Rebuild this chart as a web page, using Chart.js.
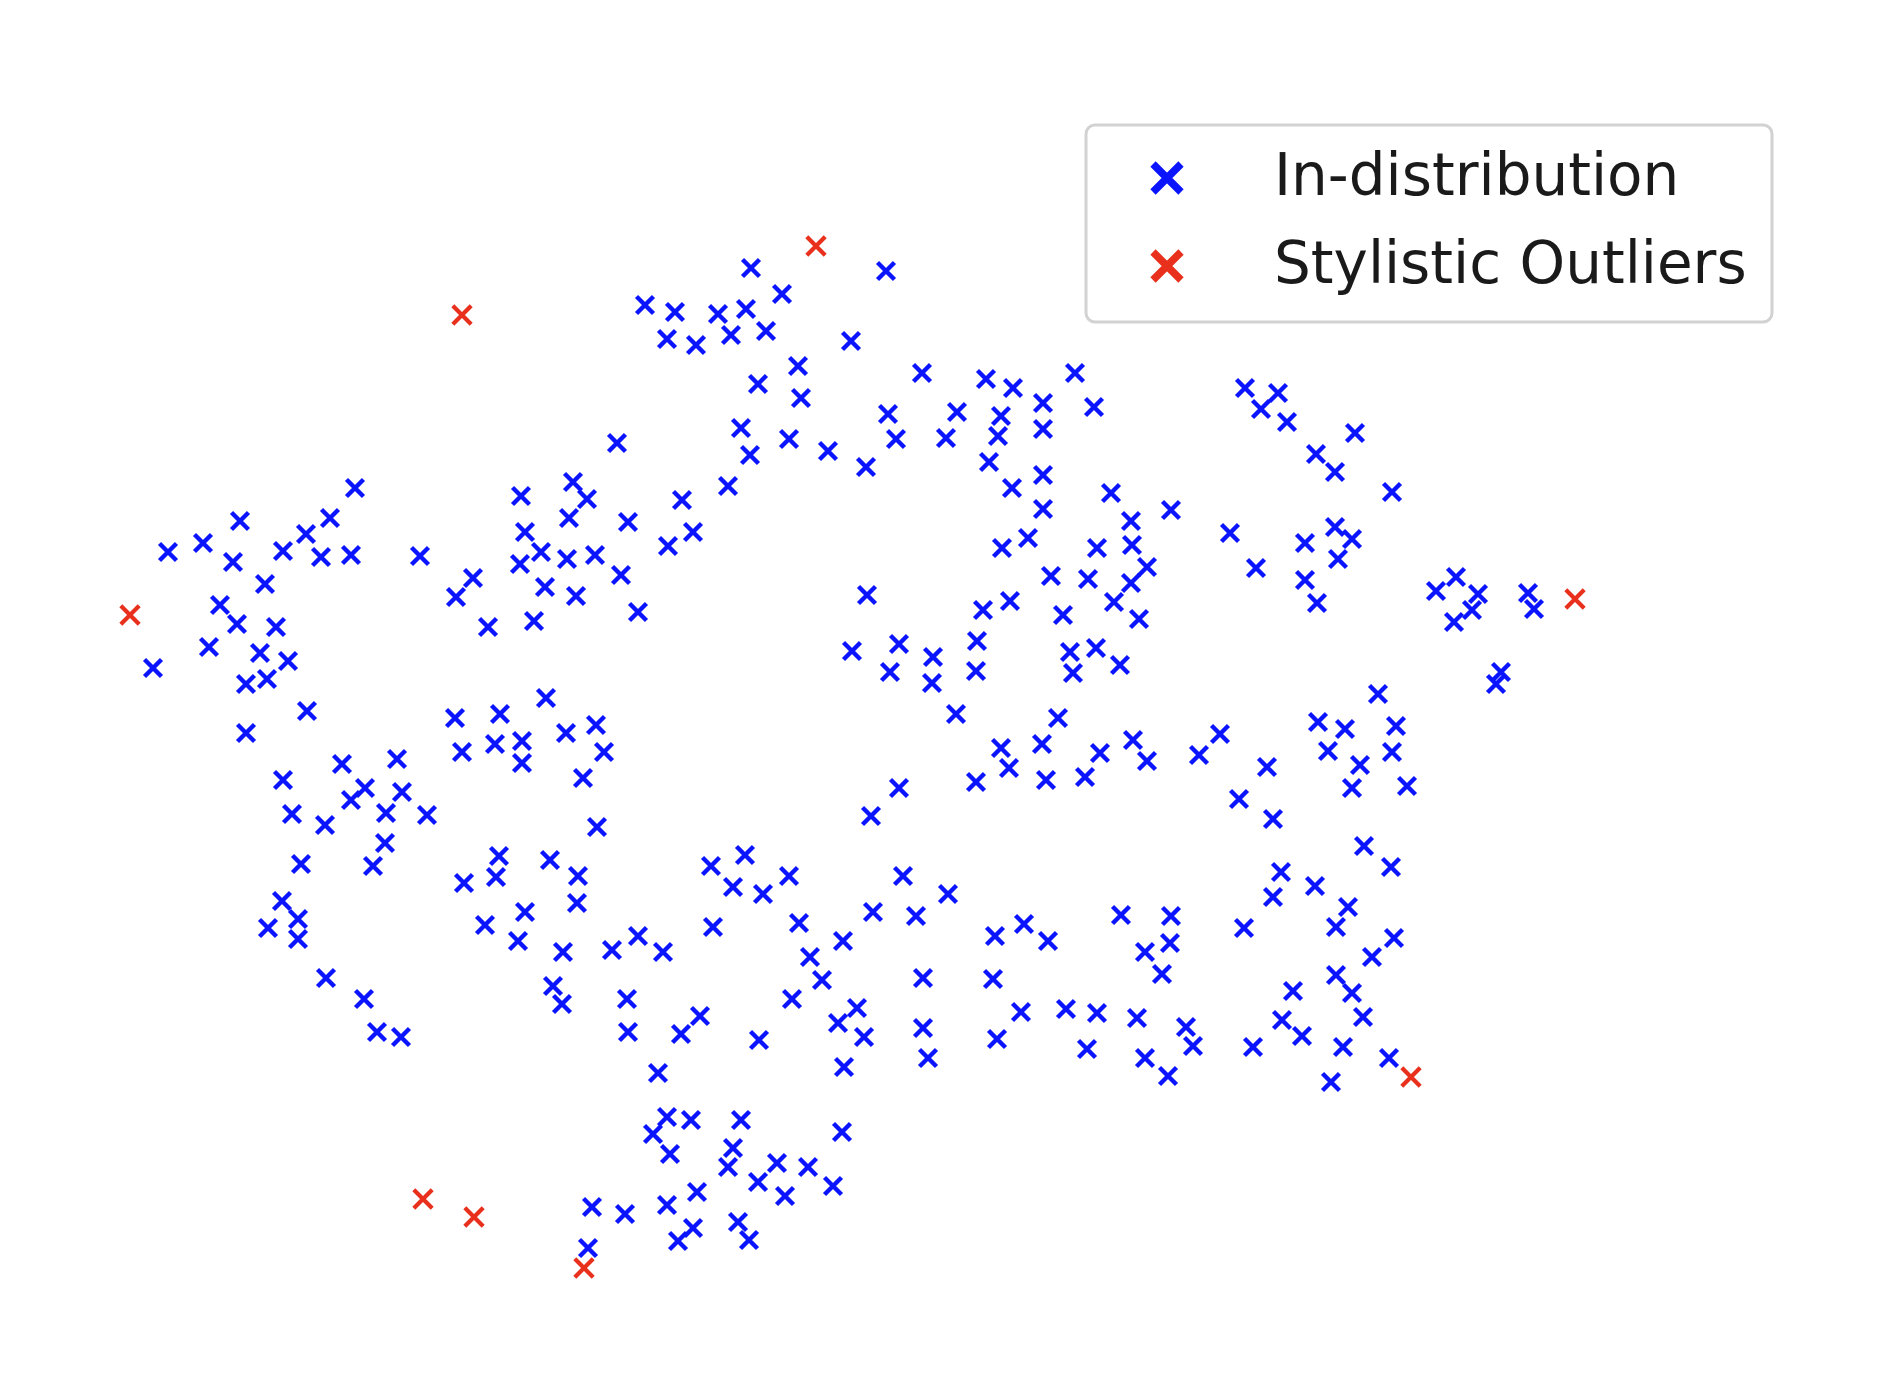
<!DOCTYPE html>
<html>
<head>
<meta charset="utf-8">
<script src="https://cdn.jsdelivr.net/npm/chart.js@4.4.0/dist/chart.umd.min.js"></script>
<style>
  html, body { margin: 0; padding: 0; background: #fff; }
  canvas { display: block; }
</style>
</head>
<body>
<canvas id="chartEmbedding" width="1880" height="1398"></canvas>
<script>
// 2-D embedding coordinates (y grows downward)
const inDistribution = [
  [355,488],[168,552],[203,543],[240,521],[233,562],[283,551],[306,534],[330,518],[321,557],[351,555],
  [420,556],[265,584],[220,605],[456,597],[473,578],[521,496],[525,532],[573,482],[587,499],[569,518],
  [541,552],[520,564],[567,559],[545,587],[576,596],
  [751,268],[886,271],[782,294],[645,305],[675,312],[718,314],[746,309],[667,339],[696,345],[731,335],
  [766,331],[851,341],[798,366],[758,384],[801,398],[922,373],[986,379],[1013,388],[1043,403],[1001,416],
  [1043,429],[998,436],[888,414],[957,412],[896,439],[946,438],[741,428],[789,439],[750,455],[828,451],
  [866,467],[989,462],[1012,488],[1043,475],[1043,509],[1028,538],[1002,548],[617,443],[728,486],[682,500],
  [628,522],[693,532],[668,546],[595,555],[621,575],[867,595],[1051,576],[1010,601],
  [1075,373],[1094,407],[1245,388],[1278,393],[1261,409],[1287,422],[1355,433],[1316,454],[1335,472],[1392,492],
  [1111,493],[1171,510],[1131,521],[1097,548],[1132,545],[1147,567],[1088,579],[1131,583],[1114,602],[1230,533],
  [1256,568],[1305,543],[1335,527],[1352,539],[1338,559],[1305,580],[1317,603],[1436,591],[1456,577],[1478,594],
  [1472,610],[1528,593],[1534,609],
  [237,624],[276,627],[209,647],[260,653],[288,661],[246,684],[267,679],[153,668],[307,711],[246,733],
  [488,627],[534,621],[455,718],[500,714],[546,698],[462,752],[495,744],[522,741],[522,763],[566,733],
  [583,778],[283,780],[342,764],[397,759],[365,788],[351,800],[402,792],[292,814],[325,825],[386,813],
  [427,815],[385,843],[373,866],[301,864],[282,901],[298,919],[268,928],[298,939],[326,978],[499,856],
  [496,877],[464,883],[550,860],[578,876],[577,903],[525,912],[485,925],[518,941],[563,952],[553,986],
  [638,612],[983,610],[1063,615],[852,651],[899,644],[890,672],[933,657],[932,683],[977,641],[976,671],
  [956,714],[1058,718],[1001,748],[1042,744],[1009,768],[976,782],[1046,780],[596,725],[604,752],[597,827],
  [899,788],[871,816],[711,866],[745,855],[733,887],[763,894],[789,876],[903,876],[948,894],[873,912],
  [916,916],[799,923],[713,927],[638,936],[612,950],[663,952],[843,941],[810,957],[822,980],[923,978],
  [993,979],[995,936],[1024,924],[1048,941],
  [1139,619],[1454,622],[1070,652],[1096,648],[1073,673],[1120,665],[1501,672],[1496,684],[1378,694],[1318,722],
  [1345,729],[1396,726],[1328,751],[1392,752],[1360,765],[1352,788],[1407,786],[1100,753],[1133,740],[1147,761],
  [1085,777],[1199,755],[1220,734],[1267,767],[1239,799],[1273,819],[1364,846],[1391,867],[1281,872],[1315,886],
  [1273,897],[1348,907],[1336,927],[1244,928],[1121,915],[1171,916],[1145,952],[1170,943],[1162,974],[1394,938],
  [1372,957],[1336,975],
  [364,999],[377,1032],[401,1037],[562,1004],[588,1248],
  [627,999],[628,1032],[681,1034],[700,1016],[658,1073],[759,1040],[792,999],[857,1008],[838,1023],[864,1037],
  [844,1067],[923,1028],[928,1058],[1021,1012],[997,1039],[1066,1009],[667,1117],[691,1120],[653,1134],[670,1154],
  [741,1120],[733,1148],[728,1167],[777,1163],[758,1182],[808,1167],[785,1196],[833,1186],[842,1132],[697,1192],
  [667,1205],[625,1214],[592,1207],[693,1228],[678,1241],[738,1222],[749,1240],
  [1097,1013],[1137,1018],[1087,1049],[1145,1058],[1168,1076],[1186,1027],[1193,1046],[1253,1047],[1293,991],[1282,1020],
  [1302,1036],[1352,993],[1363,1017],[1343,1047],[1389,1058],[1331,1082]
];
const stylisticOutliers = [
  [462,315],[816,246],[1575,599],[130,615],[423,1199],[474,1217],[584,1268],[1411,1077]
];
const seriesLabels = ['In-distribution', 'Stylistic Outliers'];
const seriesColors = ['#0a14ff', '#e8301c'];

const toXY = (pts) => pts.map(p => ({ x: p[0], y: p[1] }));

// legend box like matplotlib's, drawn on top
const boxLegend = {
    id: 'boxLegend',
    afterDraw(chart) {
        const ctx = chart.ctx;
        const x0 = 1086, y0 = 125, w = 686, h = 197, r = 9;
        ctx.save();
        ctx.fillStyle = 'rgba(255,255,255,0.85)';
        ctx.strokeStyle = '#d2d2d2';
        ctx.lineWidth = 3;
        ctx.beginPath();
        ctx.roundRect(x0, y0, w, h, r);
        ctx.fill();
        ctx.stroke();
        const rows = [178, 266];
        chart.data.datasets.forEach((ds, i) => {
            const cy = rows[i], cx = 1167, s = 14;
            ctx.strokeStyle = ds.borderColor;
            ctx.lineWidth = 7.5;
            ctx.lineCap = 'butt';
            ctx.beginPath();
            ctx.moveTo(cx - s, cy - s); ctx.lineTo(cx + s, cy + s);
            ctx.moveTo(cx + s, cy - s); ctx.lineTo(cx - s, cy + s);
            ctx.stroke();
            ctx.fillStyle = '#1a1a1a';
            ctx.font = '58px "DejaVu Sans"';
            ctx.textBaseline = 'alphabetic';
            ctx.fillText(ds.label, 1274, cy + 17);
        });
        ctx.restore();
    }
};

new Chart(document.getElementById('chartEmbedding').getContext('2d'), {
    type: 'scatter',
    data: {
        datasets: [{
            label: seriesLabels[0],
            data: toXY(inDistribution),
            borderColor: seriesColors[0],
            backgroundColor: seriesColors[0],
            pointStyle: 'crossRot',
            pointRadius: 12,
            pointBorderWidth: 4.4,
            order: 2
        }, {
            label: seriesLabels[1],
            data: toXY(stylisticOutliers),
            borderColor: seriesColors[1],
            backgroundColor: seriesColors[1],
            pointStyle: 'crossRot',
            pointRadius: 13,
            pointBorderWidth: 4.2,
            order: 1
        }]
    },
    options: {
        responsive: false,
        animation: false,
        devicePixelRatio: 1,
        layout: { padding: 0, autoPadding: false },
        plugins: {
            legend: { display: false },
            tooltip: { enabled: false }
        },
        scales: {
            x: { type: 'linear', display: false, min: 0, max: 1880 },
            y: { type: 'linear', display: false, min: 0, max: 1398, reverse: true }
        }
    },
    plugins: [boxLegend]
});
</script>
</body>
</html>
